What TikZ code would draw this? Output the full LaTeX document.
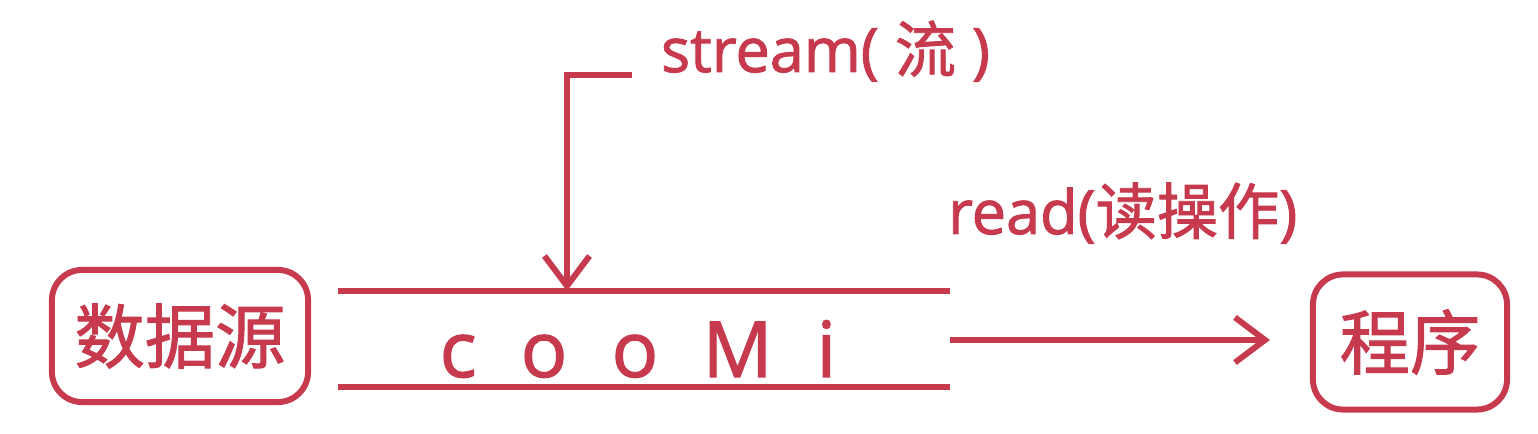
\documentclass[tikz,border=0pt]{standalone}
\usepackage{fontspec}
\setmainfont{Open Sans}[FakeBold=1.6]
\newfontfamily\cjk{Noto Sans CJK SC}[FakeBold=1.4]
\newfontfamily\spaced{Open Sans}[WordSpace=2.2,FakeBold=1.6]
\usetikzlibrary{arrows.meta}
\definecolor{iored}{HTML}{C73A4E}

\begin{document}
\begin{tikzpicture}[x=0.01cm,y=-0.01cm,
  line width=1.7pt, draw=iored, text=iored,
  endbox/.style={draw, rounded corners=0.3cm, inner sep=0pt,
    font=\cjk\fontsize{20}{24}\selectfont},
  tag/.style={font=\fontsize{17.4}{20}\selectfont, inner sep=0pt},
  barb/.style={-{Straight Barb[length=0.3cm,width=0.45cm]}}]
  \useasboundingbox (0,0) rectangle (1538,434);
  % end points
  \node[endbox, minimum width=2.56cm, minimum height=1.32cm] (src) at (180,336) {数据源};
  \node[endbox, minimum width=1.94cm, minimum height=1.35cm] (prog) at (1410,342) {程序};
  % the pipe
  \coordinate (pipeTL) at (338,291);
  \coordinate (pipeTR) at (950,291);
  \coordinate (pipeBL) at (338,387);
  \coordinate (pipeBR) at (950,387);
  \draw (pipeTL) -- (pipeTR);
  \draw (pipeBL) -- (pipeBR);
  \node[inner sep=0pt, anchor=base, font=\spaced\fontsize{22}{26}\selectfont]
    (pipe) at (638,377) {c o o M i};
  % stream label and pointer
  \node[tag, anchor=base west] (streamlbl) at (658,72) {stream( {\cjk 流} )};
  \coordinate (streamend) at (632,75);
  \coordinate (streamhit) at (567,291);
  \draw[barb] (streamend) -| (streamhit);
  % read
  \node[tag, anchor=base west] (readlbl) at (945,234) {read({\cjk 读操作})};
  \coordinate (readstart) at (950,340);
  \coordinate (readend) at (1270,340);
  \draw[barb] (readstart) -- (readend);
\end{tikzpicture}
\end{document}
